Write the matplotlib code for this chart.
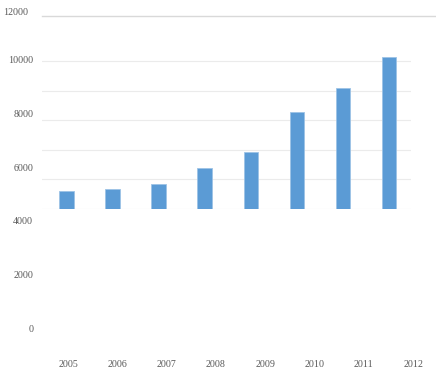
import numpy as np
import matplotlib
matplotlib.use("Agg")
import matplotlib.pyplot as plt
from matplotlib.transforms import ScaledTranslation

years = ["2005", "2006", "2007", "2008", "2009", "2010", "2011", "2012"]
values = [5120, 5180, 5380, 5960, 6560, 8050, 8960, 10100]
y_labels = [0, 2000, 4000, 6000, 8000, 10000, 12000]

W, H = 436, 371
fig = plt.figure(figsize=(W / 100, H / 100), dpi=100)
plt.rcParams["font.family"] = ["Liberation Serif", "DejaVu Serif"]
text_color = "#595959"


def box(x0, x1, y_top, y_bot):
    # pixel box -> figure fraction
    return [x0 / W, 1 - y_bot / H, (x1 - x0) / W, (y_bot - y_top) / H]


# plot area with bars and grid
ax = fig.add_axes(box(42, 411, 16, 209))
x = np.arange(len(years))
ax.bar(x, values, width=0.31, color="#5B9BD5", edgecolor="#9DC3E6",
       linewidth=0.6, zorder=3)
ax.set_xlim(-0.53, 7.48)
ax.set_ylim(4446, 11640)
ax.set_yticks(np.linspace(4446, 9960, 6))
ax.grid(axis="y", color="#EBEBEB", linewidth=0.8, zorder=0)
ax.tick_params(length=0, labelleft=False, labelbottom=False)
for s in ax.spines.values():
    s.set_visible(False)
ax.plot([0, 425 / 369], [1, 1], transform=ax.transAxes, color="#D9D9D9",
        linewidth=1.0, clip_on=False)

# labels (offset from the plot area, as in the original)
lab = fig.add_axes(box(68, 413, 6.3, 328.3))
lab.patch.set_alpha(0)
lab.set_xlim(0, 7)
lab.set_ylim(0, 12000)
lab.set_xticks(np.arange(len(years)))
lab.set_xticklabels(years)
lab.set_yticks(y_labels)
lab.set_yticklabels([str(v) for v in y_labels])
lab.tick_params(length=0, labelsize=7.2, colors=text_color)
lab.tick_params(axis="y", pad=25)
lab.tick_params(axis="x", pad=23)
for s in lab.spines.values():
    s.set_visible(False)

# the top label sits a bit lower and further left in the original
top = lab.get_yticklabels()[-1]
top.set_transform(top.get_transform()
                  + ScaledTranslation(-5 / 100, -5.5 / 100, fig.dpi_scale_trans))

fig.savefig("out.png", dpi=100)
